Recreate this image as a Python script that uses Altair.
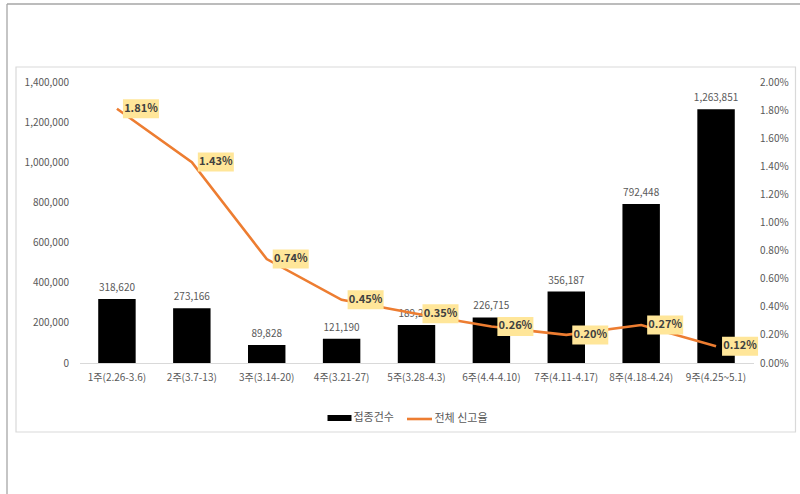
import altair as alt
import pandas as pd

categories = ["1주(2.26-3.6)", "2주(3.7-13)", "3주(3.14-20)", "4주(3.21-27)", "5주(3.28-4.3)",
              "6주(4.4-4.10)", "7주(4.11-4.17)", "8주(4.18-4.24)", "9주(4.25~5.1)"]
counts = [318620, 273166, 89828, 121190, 189241, 226715, 356187, 792448, 1263851]
rates = [0.0181, 0.0143, 0.0074, 0.0045, 0.0035, 0.0026, 0.0020, 0.0027, 0.0012]
bar_name = "접종건수"
line_name = "전체 신고율"
left_ticks = [0, 200000, 400000, 600000, 800000, 1000000, 1200000, 1400000]
right_ticks = [0, 0.002, 0.004, 0.006, 0.008, 0.010, 0.012, 0.014, 0.016, 0.018, 0.020]

df = pd.DataFrame({"cat": categories, "count": counts, "rate": rates,
                   "s1": bar_name, "s2": line_name})
one = pd.DataFrame({"k": [0]})

FONT = "Noto Sans CJK KR"
GRAY = "#595959"

x_enc = alt.X("cat:N", sort=categories,
              scale=alt.Scale(paddingInner=0.5, paddingOuter=0.25),
              axis=alt.Axis(title=None, labelAngle=0, ticks=False, domain=True,
                            domainColor="#d9d9d9", labelColor=GRAY, labelFontSize=10,
                            labelPadding=9, labelFont=FONT, zindex=1))

y_left = alt.Scale(domain=[0, 1400000])
y_right = alt.Scale(domain=[0, 0.02])

frame = alt.Chart(one).mark_rect(fill="white", stroke="#d9d9d9", strokeWidth=1.2).encode(
    x=alt.value(-63.5), x2=alt.value(716), y=alt.value(-15), y2=alt.value(350))
top_rule = alt.Chart(one).mark_rule(color="#a6a6a6", strokeWidth=1.3).encode(
    x=alt.value(-72.5), x2=alt.value(721), y=alt.value(-78))
left_rule = alt.Chart(one).mark_rule(color="#a6a6a6", strokeWidth=1.3).encode(
    x=alt.value(-72.5), y=alt.value(-78), y2=alt.value(412))

base = alt.Chart(df)

bars = base.mark_bar(color="black").encode(
    x=x_enc,
    y=alt.Y("count:Q", scale=y_left,
            axis=alt.Axis(orient="left", title=None, values=left_ticks, format=",.0f",
                          grid=False, domain=False, ticks=False, labelColor=GRAY,
                          labelFontSize=10, labelPadding=11, labelFont=FONT, zindex=1)),
    color=alt.Color("s1:N", scale=alt.Scale(range=["black"]),
                    legend=alt.Legend(title=None, orient="none", legendX=247, legendY=323,
                                      symbolType="M-1,-0.25L1,-0.25L1,0.25L-1,0.25Z",
                                      symbolSize=576, labelFont=FONT, labelFontSize=11,
                                      labelColor=GRAY, labelOffset=1, padding=0)),
)

bar_text = base.mark_text(baseline="bottom", dy=-6, color=GRAY, fontSize=10, font=FONT).encode(
    x=x_enc,
    y=alt.Y("count:Q", scale=y_left, axis=None),
    text=alt.Text("count:Q", format=",.0f"),
)

line = base.mark_line(strokeWidth=2.6).encode(
    x=x_enc,
    y=alt.Y("rate:Q", scale=y_right,
            axis=alt.Axis(orient="right", title=None, values=right_ticks, format=".2%",
                          grid=False, domain=False, ticks=False, labelColor=GRAY,
                          labelFontSize=10, labelPadding=6, labelFont=FONT, zindex=1)),
    stroke=alt.Stroke("s2:N", scale=alt.Scale(range=["#ED7D31"]),
                      legend=alt.Legend(title=None, orient="none", legendX=326, legendY=323,
                                        symbolType="stroke", symbolSize=625,
                                        symbolStrokeWidth=2.6, labelFont=FONT,
                                        labelFontSize=11, labelColor=GRAY, labelOffset=1,
                                        padding=0)),
)

boxes = base.mark_tick(color="#FFE699", opacity=1, size=36, thickness=19, xOffset=24).encode(
    x=x_enc,
    y=alt.Y("rate:Q", scale=y_right, axis=None),
)

rate_text = base.mark_text(dx=24, baseline="middle", fontWeight="bold", fontSize=11,
                           color="#404040", font=FONT).encode(
    x=x_enc,
    y=alt.Y("rate:Q", scale=y_right, axis=None),
    text=alt.Text("rate:Q", format=".2%"),
)

chart = alt.layer(frame, top_rule, left_rule, bars, bar_text, line, boxes, rate_text).resolve_scale(
    y="independent", color="independent", stroke="independent"
).properties(
    width=674, height=281,
    padding={"left": 79.5, "top": 82, "right": 46.5, "bottom": 131},
    autosize=alt.AutoSizeParams(type="none"),
    background="white",
).configure_view(stroke=None)

chart.save("out.html", embed_options={"renderer": "svg", "actions": False})
